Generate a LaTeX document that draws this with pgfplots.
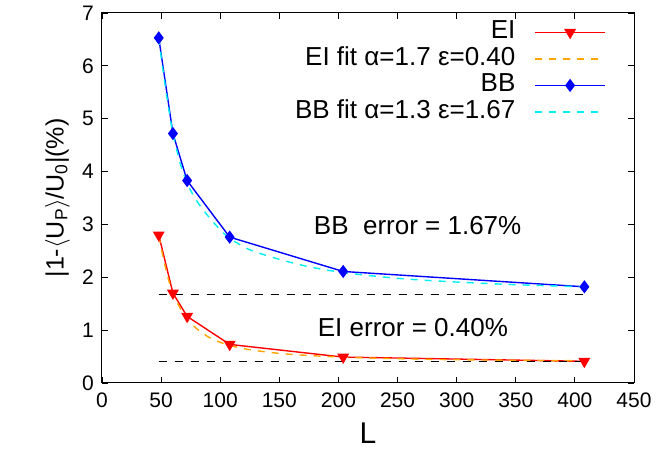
\documentclass[border=0pt]{standalone}
\usepackage{fontspec}
\setmainfont{Liberation Sans}
\usepackage{pgfplots}
\pgfplotsset{compat=1.18}
\definecolor{fitorange}{RGB}{255,165,0}
\definecolor{fitcyan}{RGB}{0,240,240}
\begin{document}
\fontsize{21pt}{24pt}\selectfont
\begin{tikzpicture}
\begin{axis}[
  name=main,
  scale only axis,
  width=532pt, height=370pt,
  xmin=0, xmax=450, ymin=0, ymax=7,
  xtick={0,50,...,450}, ytick={0,1,...,7},
  tick align=inside,
  major tick length=6pt,
  axis line style={line width=1pt},
  every tick/.style={line width=0.8pt, black},
  /pgf/number format/assume math mode=true,
  tick label style={font=\fontsize{21pt}{24pt}\selectfont},
  xticklabel style={yshift=-3pt},
  yticklabel style={xshift=-1pt},
  xlabel={L},
  xlabel style={font=\fontsize{30pt}{34pt}\selectfont, yshift=-1pt},
  ylabel={|1-$\langle$U\textsubscript{P}$\rangle$/U\textsubscript{0}|(\%)},
  ylabel style={font=\fontsize{25pt}{28pt}\selectfont, yshift=-2pt},
  legend style={at={(rel axis cs:1,1)}, anchor=north east, xshift=-25pt, yshift=-4pt,
    draw=none, fill=none, font=\fontsize{26pt}{28pt}\selectfont, row sep=0pt,
    nodes={inner ysep=0.5pt, text height=19pt, text depth=6.5pt},
    /tikz/column 1/.style={column sep=17pt}},
  legend cell align=right,
  legend plot pos=right,
  legend image code/.code={
    \draw[mark repeat=2, mark phase=2, #1] plot coordinates {(0pt,0pt) (35pt,0pt) (70pt,0pt)};
  },
]
% EI results
\addplot[red, line width=1.4pt, mark=triangle*, mark size=5.5pt,
  mark options={rotate=180, solid}]
  coordinates {(48,2.80) (60,1.70) (72,1.26) (108,0.73) (204,0.49) (408,0.41)};
\addlegendentry{EI}
% EI fit
\addplot[fitorange, line width=1.4pt, dash pattern=on 7pt off 7pt, smooth]
  coordinates {(48,2.78) (52,2.35) (56,1.98) (60,1.70) (66,1.42) (72,1.21)
    (80,1.03) (90,0.87) (100,0.77) (108,0.71) (125,0.63) (150,0.56) (175,0.52)
    (204,0.49) (250,0.46) (300,0.44) (350,0.43) (408,0.42)};
\addlegendentry{EI fit α=1.7 ε=0.40}
% BB results
\addplot[blue, line width=1.4pt, mark=diamond*, mark size=5.5pt, mark options={solid}]
  coordinates {(48,6.53) (60,4.72) (72,3.83) (108,2.76) (204,2.11) (408,1.82)};
\addlegendentry{BB}
% BB fit
\addplot[fitcyan, line width=1.4pt, dash pattern=on 7pt off 7pt, smooth]
  coordinates {(48,6.53) (52,5.85) (56,5.25) (60,4.72) (66,4.17) (72,3.78)
    (80,3.45) (90,3.15) (100,2.90) (108,2.74) (125,2.52) (150,2.34) (175,2.20)
    (204,2.09) (250,1.98) (300,1.91) (350,1.86) (408,1.82)};
\addlegendentry{BB fit α=1.3 ε=1.67}
% asymptotic error levels
\addplot[black, line width=1pt, dash pattern=on 8pt off 8pt, forget plot]
  coordinates {(48,1.67) (408,1.67)};
\addplot[black, line width=1pt, dash pattern=on 8pt off 8pt, forget plot]
  coordinates {(48,0.40) (408,0.40)};
\node[font=\fontsize{26pt}{28pt}\selectfont] at (axis cs:267,2.97) {BB\ \ error = 1.67\%};
\node[font=\fontsize{26pt}{28pt}\selectfont] at (axis cs:263,1.04) {EI error = 0.40\%};
\end{axis}
\pgfresetboundingbox
\path (main.south west) ++(-102pt,-84pt) coordinate (bbl);
\path (main.north east) ++(22pt,13pt) coordinate (bbr);
\path (bbl) rectangle (bbr);
\end{tikzpicture}
\end{document}
